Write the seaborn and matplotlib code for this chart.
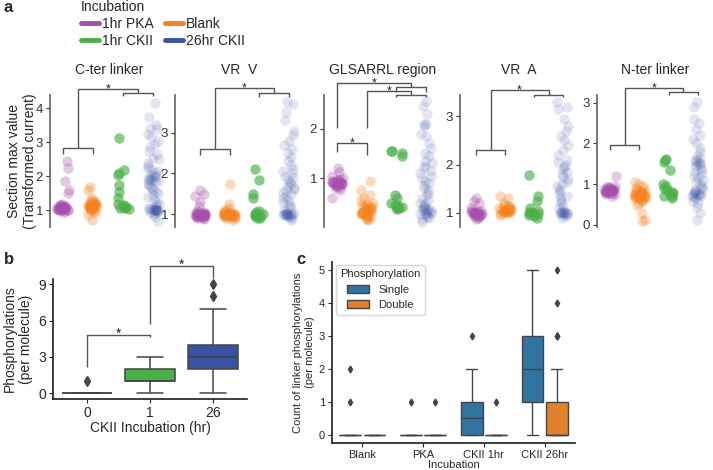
import numpy as np
import pandas as pd
import matplotlib
matplotlib.use("Agg")
import matplotlib.pyplot as plt
import seaborn as sns
from matplotlib.lines import Line2D

sns.set_theme(style="ticks")
plt.rcParams["font.family"] = ["Liberation Sans", "DejaVu Sans"]

# ---------------- data: panel a ----------------
groups = ["1hr PKA", "Blank", "1hr CKII", "26hr CKII"]
regions = ["C-ter linker", "VR  V", "GLSARRL region", "VR  A", "N-ter linker"]

cter_pka = [0.96, 0.98, 0.99, 1.0, 1.01, 1.02, 1.02, 1.03, 1.04, 1.04, 1.05, 1.05, 1.06, 1.06, 1.07, 1.07,
            1.08, 1.08, 1.09, 1.09, 1.1, 1.1, 1.11, 1.12, 1.13, 1.14, 1.15, 1.17, 1.2, 1.52, 1.6, 1.85, 2.25, 2.45]
cter_blank = [0.72, 0.85, 0.94, 0.98, 1.0, 1.02, 1.04, 1.05, 1.06, 1.07, 1.08, 1.09, 1.1, 1.1, 1.11, 1.12, 1.12,
              1.13, 1.14, 1.15, 1.15, 1.16, 1.17, 1.18, 1.19, 1.2, 1.21, 1.22, 1.24, 1.26, 1.3, 1.35, 1.6, 1.68]
cter_ck1 = [1.05, 1.07, 1.08, 1.1, 1.1, 1.12, 1.15, 1.2, 1.35, 1.55, 1.75, 2.05, 2.1, 2.2, 3.12]
cter_ck26 = [0.68, 0.8, 0.88, 0.92, 0.95, 0.97, 0.98, 1.0, 1.0, 1.0, 1.0, 1.0, 1.01, 1.02, 1.03, 1.04, 1.05,
             1.07, 1.1, 1.15, 1.2, 1.25, 1.3, 1.38, 1.45, 1.5, 1.55, 1.6, 1.65, 1.7, 1.75, 1.8, 1.82, 1.85, 1.88,
             1.9, 1.92, 1.95, 1.97, 2.0, 2.02, 2.05, 2.1, 2.15, 2.2, 2.25, 2.3, 2.4, 2.5, 2.55, 2.65, 2.75, 2.85,
             2.95, 3.05, 3.15, 3.25, 3.38, 3.42, 3.5, 3.75, 4.15]

vrv_pka = [0.88, 0.9, 0.92, 0.93, 0.94, 0.95, 0.95, 0.96, 0.96, 0.97, 0.97, 0.98, 0.98, 0.98, 0.99, 0.99, 1.0,
           1.0, 1.0, 1.01, 1.01, 1.02, 1.02, 1.03, 1.04, 1.05, 1.06, 1.08, 1.2, 1.3, 1.45, 1.5, 1.6]
vrv_blank = [0.85, 0.9, 0.92, 0.93, 0.94, 0.95, 0.96, 0.96, 0.97, 0.97, 0.98, 0.98, 0.99, 0.99, 1.0, 1.0, 1.0,
             1.01, 1.01, 1.02, 1.02, 1.03, 1.04, 1.05, 1.06, 1.08, 1.1, 1.15, 1.25, 1.75]
vrv_ck1 = [0.9, 0.92, 0.95, 0.97, 0.98, 1.0, 1.0, 1.02, 1.05, 1.08, 1.4, 1.5, 1.85, 2.12]
vrv_ck26 = [0.85, 0.9, 0.93, 0.95, 0.97, 0.98, 0.99, 1.0, 1.0, 1.0, 1.0, 1.0, 1.01, 1.02, 1.03, 1.05, 1.1,
            1.15, 1.2, 1.25, 1.3, 1.35, 1.4, 1.45, 1.5, 1.55, 1.6, 1.62, 1.65, 1.7, 1.75, 1.8, 1.85, 1.9, 1.95,
            2.0, 2.05, 2.1, 2.2, 2.3, 2.4, 2.5, 2.6, 2.7, 2.8, 2.95, 3.05, 3.3, 3.5, 3.7, 3.75]

gl_pka = [0.6, 0.75, 0.8, 0.82, 0.83, 0.84, 0.85, 0.86, 0.87, 0.87, 0.88, 0.88, 0.89, 0.89, 0.9, 0.9, 0.9,
          0.91, 0.91, 0.92, 0.92, 0.93, 0.94, 0.95, 0.96, 0.97, 0.98, 1.0, 1.05, 1.12, 1.2]
gl_blank = [0.15, 0.18, 0.2, 0.22, 0.24, 0.25, 0.26, 0.27, 0.28, 0.29, 0.3, 0.3, 0.31, 0.32, 0.33, 0.34, 0.35,
            0.35, 0.36, 0.37, 0.38, 0.39, 0.4, 0.41, 0.42, 0.44, 0.45, 0.47, 0.5, 0.55, 0.6, 0.65, 0.75, 0.95]
gl_ck1 = [0.38, 0.4, 0.4, 0.42, 0.45, 0.45, 0.5, 0.6, 0.65, 1.45, 1.5, 1.55, 1.55]
gl_ck26 = [0.12, 0.18, 0.2, 0.22, 0.25, 0.27, 0.28, 0.3, 0.3, 0.32, 0.33, 0.35, 0.35, 0.37, 0.38, 0.4, 0.42,
           0.45, 0.48, 0.5, 0.55, 0.6, 0.65, 0.7, 0.75, 0.8, 0.85, 0.9, 0.95, 1.0, 1.05, 1.1, 1.15, 1.2, 1.25,
           1.3, 1.35, 1.45, 1.5, 1.6, 1.7, 1.85, 1.9, 2.05, 2.1, 2.1, 2.3, 2.45, 2.55]

vra_pka = [0.88, 0.9, 0.92, 0.93, 0.94, 0.95, 0.96, 0.96, 0.97, 0.97, 0.98, 0.98, 0.99, 0.99, 1.0, 1.0, 1.0,
           1.01, 1.01, 1.02, 1.03, 1.04, 1.05, 1.07, 1.1, 1.2, 1.25, 1.3]
vra_blank = [0.95, 0.98, 1.0, 1.01, 1.02, 1.03, 1.03, 1.04, 1.04, 1.05, 1.05, 1.06, 1.06, 1.07, 1.07, 1.08,
             1.08, 1.09, 1.1, 1.11, 1.12, 1.14, 1.16, 1.2, 1.3, 1.35]
vra_ck1 = [0.9, 0.93, 0.95, 0.98, 1.0, 1.0, 1.02, 1.05, 1.1, 1.25, 1.35, 1.78]
vra_ck26 = [0.9, 0.93, 0.95, 0.97, 0.99, 1.0, 1.0, 1.0, 1.0, 1.01, 1.02, 1.03, 1.05, 1.1, 1.15, 1.2, 1.25,
            1.3, 1.35, 1.4, 1.45, 1.5, 1.55, 1.6, 1.65, 1.7, 1.75, 1.8, 1.85, 1.9, 1.95, 2.0, 2.05, 2.1, 2.2,
            2.3, 2.4, 2.5, 2.6, 2.7, 2.8, 2.95, 3.15, 3.2, 3.3]

nt_pka = [0.72, 0.75, 0.77, 0.78, 0.79, 0.8, 0.81, 0.82, 0.82, 0.83, 0.83, 0.84, 0.84, 0.85, 0.85, 0.86, 0.86,
          0.87, 0.88, 0.88, 0.89, 0.9, 0.91, 0.92, 0.93, 0.95, 1.2]
nt_blank = [0.1, 0.12, 0.3, 0.5, 0.55, 0.6, 0.62, 0.64, 0.65, 0.66, 0.67, 0.68, 0.69, 0.7, 0.7, 0.71, 0.72,
            0.73, 0.74, 0.75, 0.75, 0.76, 0.77, 0.78, 0.79, 0.8, 0.81, 0.82, 0.84, 0.86, 0.88, 0.9, 0.95, 1.0, 1.05]
nt_ck1 = [0.65, 0.7, 0.72, 0.75, 0.78, 0.8, 0.85, 0.9, 0.95, 1.0, 1.35, 1.55, 1.6, 1.62]
nt_ck26 = [0.12, 0.3, 0.45, 0.55, 0.6, 0.65, 0.68, 0.7, 0.72, 0.74, 0.75, 0.76, 0.77, 0.78, 0.8, 0.82, 0.85,
           0.88, 0.9, 0.95, 1.0, 1.05, 1.1, 1.15, 1.2, 1.25, 1.3, 1.35, 1.4, 1.45, 1.48, 1.5, 1.52, 1.55, 1.58,
           1.6, 1.65, 1.7, 1.8, 1.9, 2.0, 2.1, 2.2, 2.35, 2.5, 2.6, 2.9, 3.02]

region_data = [
    [cter_pka, cter_blank, cter_ck1, cter_ck26],
    [vrv_pka, vrv_blank, vrv_ck1, vrv_ck26],
    [gl_pka, gl_blank, gl_ck1, gl_ck26],
    [vra_pka, vra_blank, vra_ck1, vra_ck26],
    [nt_pka, nt_blank, nt_ck1, nt_ck26],
]
region_yticks = [[1, 2, 3, 4], [1, 2, 3], [1, 2], [1, 2, 3], [0, 1, 2, 3]]

# ---------------- data: panel b ----------------
b_hours = ["0", "1", "26"]
b_values = [[0, 1], [0, 1, 2, 3], [0, 1, 2, 3, 4, 5, 6, 7, 8, 9]]
b_counts = [[30, 1], [2, 6, 5, 2], [2, 8, 15, 20, 15, 8, 5, 3, 1, 1]]

# ---------------- data: panel c ----------------
c_incub = ["Blank", "PKA", "CKII 1hr", "CKII 26hr"]
c_phos = ["Single", "Double"]
c_values = {
    ("Blank", "Single"): ([0, 1, 2], [28, 1, 1]),
    ("Blank", "Double"): ([0], [30]),
    ("PKA", "Single"): ([0, 1], [25, 1]),
    ("PKA", "Double"): ([0, 1], [25, 1]),
    ("CKII 1hr", "Single"): ([0, 1, 2, 3], [8, 5, 2, 1]),
    ("CKII 1hr", "Double"): ([0, 1], [15, 1]),
    ("CKII 26hr", "Single"): ([0, 1, 2, 3, 4, 5], [5, 15, 20, 18, 10, 5]),
    ("CKII 26hr", "Double"): ([0, 1, 2, 3, 4, 5], [40, 20, 8, 3, 1, 1]),
}

# ---------------- styles ----------------
colors = ["#a64fac", "#f5821f", "#4bb04a", "#3a53a4"]
alphas = [0.3, 0.3, 0.65, 0.14]
c_colors = ["#3274a1", "#e1812c"]
W, H = 713, 470


def box(l, t, r, b):
    return [l / W, 1 - b / H, (r - l) / W, (b - t) / H]


# pixel layout of panel a: spine x, first category x, category spacing, right edge
a_layout = [(50, 63, 30.0, 168), (175, 200, 29.5, 303), (324, 337, 29.7, 441),
            (460, 476, 29.0, 578), (597, 610, 29.3, 713)]
a_ylims = [(0.51, 4.39), (0.69, 3.92), (0.01, 2.68), (0.71, 3.44), (-0.05, 3.19)]

# brackets: (x1, x2, y, left leg bottom, right leg bottom, star)
a_brackets = [
    [(0, 1, 2.82, 2.65, 2.65, False), (2, 3, 4.44, 4.36, 4.36, False), (0.5, 2.5, 4.57, 2.82, 4.44, True)],
    [(0, 1, 2.59, 2.46, 2.46, False), (2, 3, 3.98, 3.88, 3.88, False), (0.5, 2.5, 4.09, 2.59, 3.98, True)],
    [(0, 1, 1.71, 1.52, 1.46, True), (2, 3, 2.85, 2.75, 2.75, False), (2, 3, 2.69, 2.64, 2.64, False),
     (0, 2.5, 2.92, 2.01, 2.85, True), (1, 2.5, 2.76, 2.01, 2.69, True)],
    [(0, 1, 2.31, 2.19, 2.19, False), (2, 3, 3.45, 3.39, 3.39, False), (0.5, 2.5, 3.54, 2.31, 3.45, True)],
    [(0, 1, 1.96, 1.83, 1.83, False), (2, 3, 3.27, 3.19, 3.19, False), (0.5, 2.5, 3.36, 1.96, 3.27, True)],
]
bline = "#555555"


def bracket(ax, x1, x2, y, yl1, yl2, star, fs=9):
    ax.plot([x1, x1, x2, x2], [yl1, y, y, yl2], color=bline, lw=1, clip_on=False, solid_capstyle="butt")
    if star:
        ax.annotate("*", xy=((x1 + x2) / 2, y), xytext=(0, -4.5), textcoords="offset points",
                    ha="center", va="bottom", fontsize=fs, color="#222222", annotation_clip=False)


np.random.seed(3)
fig = plt.figure(figsize=(W / 100, H / 100), dpi=100)

for i, region in enumerate(regions):
    L, c0, s, R = a_layout[i]
    ax = fig.add_axes(box(L, 95, R, 227))
    vals, grp = [], []
    for g, arr in zip(groups, region_data[i]):
        vals += list(arr)
        grp += [g] * len(arr)
    df = pd.DataFrame({"Incubation": grp, "value": vals})
    for g, col, al in zip(groups, colors, alphas):
        sns.stripplot(data=df[df["Incubation"] == g], x="Incubation", y="value", order=groups,
                      color=col, alpha=al, size=7.5, jitter=0.2, linewidth=0, ax=ax)
    ax.set_xlim(-(c0 - L) / s, 3 + (R - (c0 + 3 * s)) / s)
    ax.set_ylim(*a_ylims[i])
    ax.set_yticks(region_yticks[i])
    ax.tick_params(axis="y", labelsize=9.5, length=3, width=0.8, pad=2, colors="#333333")
    ax.tick_params(axis="x", bottom=False, labelbottom=False)
    for sp in ["top", "right", "bottom"]:
        ax.spines[sp].set_visible(False)
    ax.spines["left"].set_color("#666666")
    ax.set_xlabel("")
    ax.set_ylabel("")
    ax.set_title(region, fontsize=10, pad=15)
    for br in a_brackets[i]:
        bracket(ax, *br)
    if i == 0:
        ax.set_ylabel("Section max value\n(Transformed current)", fontsize=10)
        ax.yaxis.set_label_coords(-0.11, 0.5)

# legend filled column-wise: first column PKA / 1hr CKII, second column Blank / 26hr CKII
leg_order = [0, 2, 1, 3]
handles = [Line2D([], [], color=colors[k], lw=3.5) for k in leg_order]
labels = [groups[k] for k in leg_order]
leg = fig.legend(handles, labels, title="Incubation", ncol=2, frameon=False, loc="upper left",
                 bbox_to_anchor=(81 / W, 1.0), fontsize=10, title_fontsize=10, handlelength=1.3,
                 handletextpad=0.2, columnspacing=0.8, labelspacing=0.2, borderpad=0.0,
                 borderaxespad=0.0, alignment="left")

# ---------------- panel b ----------------
axb = fig.add_axes(box(53, 279, 247, 399))
bx, by = [], []
for h, v, c in zip(b_hours, b_values, b_counts):
    rep = np.repeat(v, c)
    by += list(rep)
    bx += [h] * len(rep)
dfb = pd.DataFrame({"hr": bx, "n": by})
sns.boxplot(data=dfb, x="hr", y="n", hue="hr", order=b_hours, hue_order=b_hours,
            palette=["#9e9e9e", colors[2], colors[3]], saturation=1, legend=False, width=0.8,
            linewidth=1.1, linecolor="#444444", ax=axb,
            flierprops=dict(marker="d", markersize=5, markerfacecolor="#444444", markeredgecolor="#444444"))
axb.set_ylim(-0.47, 9.44)
axb.set_yticks([0, 3, 6, 9])
axb.tick_params(labelsize=10, length=3, width=0.8, pad=2)
sns.despine(ax=axb)
axb.set_xlabel("CKII Incubation (hr)", fontsize=10, labelpad=1)
axb.set_ylabel("Phosphorylations\n(per molecule)", fontsize=10, labelpad=4)
bracket(axb, 0, 1, 4.82, 2.2, 4.63, True, fs=10)
bracket(axb, 1, 2, 10.55, 5.73, 9.5, True, fs=10)

# ---------------- panel c ----------------
axc = fig.add_axes(box(332, 262, 575, 443))
cx, ch, cy = [], [], []
for inc in c_incub:
    for ph in c_phos:
        v, c = c_values[(inc, ph)]
        rep = np.repeat(v, c)
        cy += list(rep)
        cx += [inc] * len(rep)
        ch += [ph] * len(rep)
dfc = pd.DataFrame({"Incubation": cx, "Phosphorylation": ch, "count": cy})
sns.boxplot(data=dfc, x="Incubation", y="count", hue="Phosphorylation", order=c_incub,
            hue_order=c_phos, palette=c_colors, saturation=1, width=0.8, gap=0.1, linewidth=1.0,
            linecolor="#444444", ax=axc,
            flierprops=dict(marker="d", markersize=3.5, markerfacecolor="#444444", markeredgecolor="#444444"))
axc.set_ylim(-0.25, 5.25)
axc.tick_params(labelsize=8, length=3, width=0.8, pad=2)
sns.despine(ax=axc)
axc.set_xlabel("Incubation", fontsize=8, labelpad=0)
axc.set_ylabel("Count of linker phosphorylations\n(per molecule)", fontsize=8, labelpad=3)
sns.move_legend(axc, "upper left", bbox_to_anchor=(0.015, 0.985), title="Phosphorylation",
                fontsize=8, title_fontsize=8, frameon=True, borderaxespad=0.0)

# panel letters
fig.text(3 / W, 1 - 12 / H, "a", fontsize=12, fontweight="bold", va="baseline")
fig.text(4 / W, 1 - 264 / H, "b", fontsize=12, fontweight="bold", va="baseline")
fig.text(296 / W, 1 - 264 / H, "c", fontsize=12, fontweight="bold", va="baseline")

fig.savefig("out.png", dpi=100)
